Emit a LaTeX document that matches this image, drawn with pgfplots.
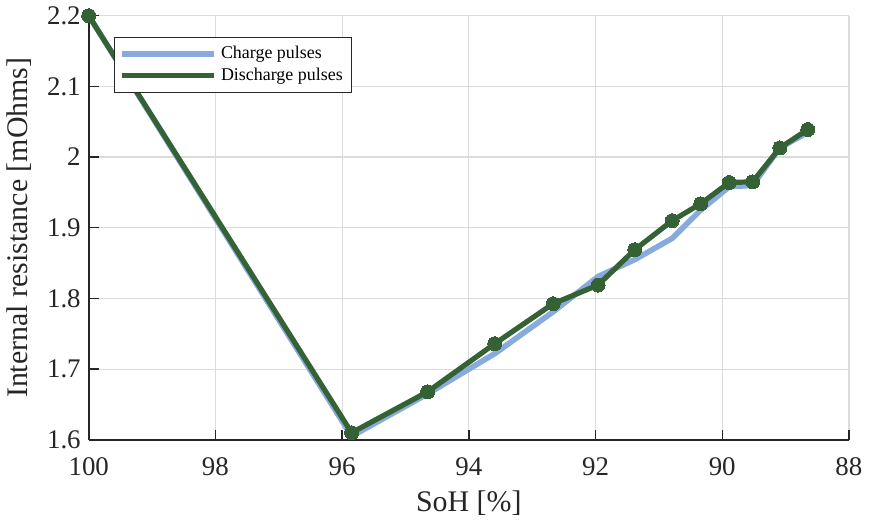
\documentclass[border=0pt]{standalone}
\usepackage{fontspec}
\setmainfont{Liberation Serif}
\usepackage{pgfplots}
\pgfplotsset{compat=1.18}
\definecolor{chblue}{RGB}{137,170,220}
\definecolor{dgreen}{RGB}{52,98,52}
\definecolor{axgray}{RGB}{38,38,38}
\begin{document}
\begin{tikzpicture}
\begin{axis}[
  scale only axis,
  width=380bp, height=212bp,
  xmin=88, xmax=100, ymin=1.6, ymax=2.2,
  x dir=reverse,
  xtick={88,90,...,100},
  ytick={1.6,1.7,...,2.2},
  xticklabel={\pgfmathprintnumber{\tick}},
  yticklabel={\pgfmathprintnumber{\tick}},
  axis x line*=bottom, axis y line*=left,
  axis line style={axgray, line width=0.8pt, -},
  tick align=inside,
  major tick length=5bp,
  tick style={axgray, line width=0.7pt},
  grid=major,
  major grid style={gray!28, line width=0.6pt},
  /pgf/number format/assume math mode=true,
  tick label style={font=\fontsize{13.5}{15}\selectfont, text=axgray},
  xticklabel style={yshift=-5.5bp},
  yticklabel style={xshift=-0.5bp},
  label style={font=\fontsize{15}{17}\selectfont, text=axgray},
  xlabel={SoH [\%]},
  ylabel={Internal resistance [mOhms]},
  xlabel style={yshift=-0.5bp},
  ylabel style={yshift=1bp},
  legend style={at={(0.033,0.95)}, anchor=north west, draw=axgray, line width=0.6pt,
    font=\fontsize{9}{10.5}\selectfont, inner sep=2.5bp, row sep=-1bp},
  legend cell align=left,
  legend image code/.code={\draw[#1, line width=2.8bp] (0bp,0bp) -- (46bp,0bp);},
]
\addplot[chblue, line width=2.8bp, line join=round] coordinates {
 (100,2.2) (95.85,1.605) (94.65,1.665) (93.59,1.722) (92.67,1.781)
 (91.96,1.831) (91.38,1.855) (90.79,1.885) (90.34,1.925) (89.89,1.958)
 (89.52,1.960) (89.09,2.013) (88.65,2.035)
};
\addlegendentry{Charge pulses}
\addplot[dgreen, line width=2.6bp, line join=round, mark=*, mark size=3.5bp,
  mark options={fill=dgreen, draw=dgreen, line width=0pt}] coordinates {
 (100,2.2) (95.85,1.610) (94.65,1.668) (93.59,1.736) (92.67,1.7925)
 (91.96,1.819) (91.38,1.869) (90.79,1.910) (90.34,1.934) (89.89,1.964)
 (89.52,1.965) (89.09,2.013) (88.65,2.039)
};
\addlegendentry{Discharge pulses}
\end{axis}
\end{tikzpicture}
\end{document}
